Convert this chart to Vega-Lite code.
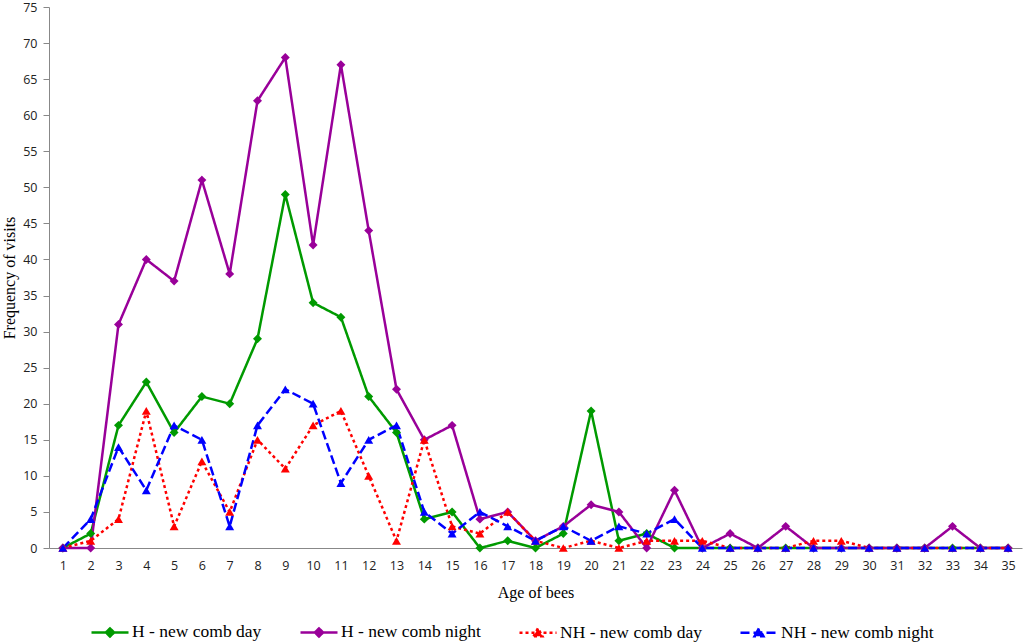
{
  "$schema": "https://vega.github.io/schema/vega-lite/v6.json",
  "width": 973,
  "height": 541,
  "autosize": "none",
  "padding": {"left": 49, "top": 7, "right": 2, "bottom": 94},
  "background": "white",
  "config": {
    "view": {"stroke": null},
    "axis": {"labelFont": "Open Sans", "labelFontSize": 12.5, "labelColor": "#222", "titleFont": "Liberation Serif", "titleFontSize": 16, "titleFontWeight": "normal", "titleColor": "#000", "domainColor": "#888", "tickColor": "#888", "grid": false}
  },
  "data": {
    "values": [
      {"age": 1, "H - new comb day": 0, "H - new comb night": 0, "NH - new comb day": 0, "NH - new comb night": 0},
      {"age": 2, "H - new comb day": 2, "H - new comb night": 0, "NH - new comb day": 1, "NH - new comb night": 4},
      {"age": 3, "H - new comb day": 17, "H - new comb night": 31, "NH - new comb day": 4, "NH - new comb night": 14},
      {"age": 4, "H - new comb day": 23, "H - new comb night": 40, "NH - new comb day": 19, "NH - new comb night": 8},
      {"age": 5, "H - new comb day": 16, "H - new comb night": 37, "NH - new comb day": 3, "NH - new comb night": 17},
      {"age": 6, "H - new comb day": 21, "H - new comb night": 51, "NH - new comb day": 12, "NH - new comb night": 15},
      {"age": 7, "H - new comb day": 20, "H - new comb night": 38, "NH - new comb day": 5, "NH - new comb night": 3},
      {"age": 8, "H - new comb day": 29, "H - new comb night": 62, "NH - new comb day": 15, "NH - new comb night": 17},
      {"age": 9, "H - new comb day": 49, "H - new comb night": 68, "NH - new comb day": 11, "NH - new comb night": 22},
      {"age": 10, "H - new comb day": 34, "H - new comb night": 42, "NH - new comb day": 17, "NH - new comb night": 20},
      {"age": 11, "H - new comb day": 32, "H - new comb night": 67, "NH - new comb day": 19, "NH - new comb night": 9},
      {"age": 12, "H - new comb day": 21, "H - new comb night": 44, "NH - new comb day": 10, "NH - new comb night": 15},
      {"age": 13, "H - new comb day": 16, "H - new comb night": 22, "NH - new comb day": 1, "NH - new comb night": 17},
      {"age": 14, "H - new comb day": 4, "H - new comb night": 15, "NH - new comb day": 15, "NH - new comb night": 5},
      {"age": 15, "H - new comb day": 5, "H - new comb night": 17, "NH - new comb day": 3, "NH - new comb night": 2},
      {"age": 16, "H - new comb day": 0, "H - new comb night": 4, "NH - new comb day": 2, "NH - new comb night": 5},
      {"age": 17, "H - new comb day": 1, "H - new comb night": 5, "NH - new comb day": 5, "NH - new comb night": 3},
      {"age": 18, "H - new comb day": 0, "H - new comb night": 1, "NH - new comb day": 1, "NH - new comb night": 1},
      {"age": 19, "H - new comb day": 2, "H - new comb night": 3, "NH - new comb day": 0, "NH - new comb night": 3},
      {"age": 20, "H - new comb day": 19, "H - new comb night": 6, "NH - new comb day": 1, "NH - new comb night": 1},
      {"age": 21, "H - new comb day": 1, "H - new comb night": 5, "NH - new comb day": 0, "NH - new comb night": 3},
      {"age": 22, "H - new comb day": 2, "H - new comb night": 0, "NH - new comb day": 1, "NH - new comb night": 2},
      {"age": 23, "H - new comb day": 0, "H - new comb night": 8, "NH - new comb day": 1, "NH - new comb night": 4},
      {"age": 24, "H - new comb day": 0, "H - new comb night": 0, "NH - new comb day": 1, "NH - new comb night": 0},
      {"age": 25, "H - new comb day": 0, "H - new comb night": 2, "NH - new comb day": 0, "NH - new comb night": 0},
      {"age": 26, "H - new comb day": 0, "H - new comb night": 0, "NH - new comb day": 0, "NH - new comb night": 0},
      {"age": 27, "H - new comb day": 0, "H - new comb night": 3, "NH - new comb day": 0, "NH - new comb night": 0},
      {"age": 28, "H - new comb day": 0, "H - new comb night": 0, "NH - new comb day": 1, "NH - new comb night": 0},
      {"age": 29, "H - new comb day": 0, "H - new comb night": 0, "NH - new comb day": 1, "NH - new comb night": 0},
      {"age": 30, "H - new comb day": 0, "H - new comb night": 0, "NH - new comb day": 0, "NH - new comb night": 0},
      {"age": 31, "H - new comb day": 0, "H - new comb night": 0, "NH - new comb day": 0, "NH - new comb night": 0},
      {"age": 32, "H - new comb day": 0, "H - new comb night": 0, "NH - new comb day": 0, "NH - new comb night": 0},
      {"age": 33, "H - new comb day": 0, "H - new comb night": 3, "NH - new comb day": 0, "NH - new comb night": 0},
      {"age": 34, "H - new comb day": 0, "H - new comb night": 0, "NH - new comb day": 0, "NH - new comb night": 0},
      {"age": 35, "H - new comb day": 0, "H - new comb night": 0, "NH - new comb day": 0, "NH - new comb night": 0}
    ]
  },
  "transform": [
    {"fold": ["H - new comb day", "H - new comb night", "NH - new comb day", "NH - new comb night"], "as": ["series", "v"]}
  ],
  "encoding": {
    "x": {
      "field": "age", "type": "quantitative",
      "scale": {"domain": [0.5, 35.5], "nice": false, "zero": false},
      "axis": {"title": "Age of bees", "values": [1,2,3,4,5,6,7,8,9,10,11,12,13,14,15,16,17,18,19,20,21,22,23,24,25,26,27,28,29,30,31,32,33,34,35], "ticks": false, "labelPadding": 11, "titlePadding": 13, "labelFlush": false, "labelOverlap": false, "format": "d"}
    },
    "y": {
      "field": "v", "type": "quantitative",
      "scale": {"domain": [0, 75], "nice": false},
      "axis": {"title": "Frequency of visits", "values": [0,5,10,15,20,25,30,35,40,45,50,55,60,65,70,75], "tickSize": 6, "labelPadding": 6, "titlePadding": 5, "labelFlush": false}
    },
    "color": {
      "field": "series", "type": "nominal",
      "scale": {"domain": ["H - new comb day", "H - new comb night", "NH - new comb day", "NH - new comb night"], "range": ["#009A00", "#990099", "#FF0000", "#0000FF"]},
      "legend": {
        "title": null, "orient": "none", "legendX": 41, "legendY": 605, "direction": "horizontal", "columns": 4,
        "columnPadding": 33, "labelOffset": 2, "padding": 0,
        "labelFont": "Liberation Serif", "labelFontSize": 17.5, "labelColor": "#000", "labelLimit": 400,
        "symbolSize": 1369,
        "encode": {
          "symbols": {
            "update": {
              "shape": {"signal": "indexof(datum.label,'NH')===0 ? 'M-1,0L1,0M-0.24,0.2L0,-0.24L0.24,0.2Z' : 'M-1,0L1,0M-0.22,0L0,-0.22L0.22,0L0,0.22Z'"},
              "strokeDash": {"signal": "datum.label==='NH - new comb day' ? [3,3] : (datum.label==='NH - new comb night' ? [9,4] : [1,0])"},
              "fill": {"scale": "color", "field": "value"},
              "stroke": {"scale": "color", "field": "value"},
              "strokeWidth": {"value": 2.5},
              "size": {"value": 1369},
              "opacity": {"value": 1},
              "fillOpacity": {"value": 1}
            }
          }
        }
      }
    }
  },
  "layer": [
    {
      "mark": {"type": "line", "strokeWidth": 2.5},
      "encoding": {
        "strokeDash": {
          "field": "series", "type": "nominal",
          "scale": {"domain": ["H - new comb day", "H - new comb night", "NH - new comb day", "NH - new comb night"], "range": [[1, 0], [1, 0], [3, 3], [9, 4]]},
          "legend": null
        }
      }
    },
    {
      "transform": [{"filter": "indexof(datum.series, 'NH') !== 0"}],
      "mark": {"type": "point", "filled": true, "opacity": 1, "size": 80, "shape": "diamond"}
    },
    {
      "transform": [{"filter": "indexof(datum.series, 'NH') === 0"}],
      "mark": {"type": "point", "filled": true, "opacity": 1, "size": 80, "shape": "triangle-up"}
    }
  ]
}
